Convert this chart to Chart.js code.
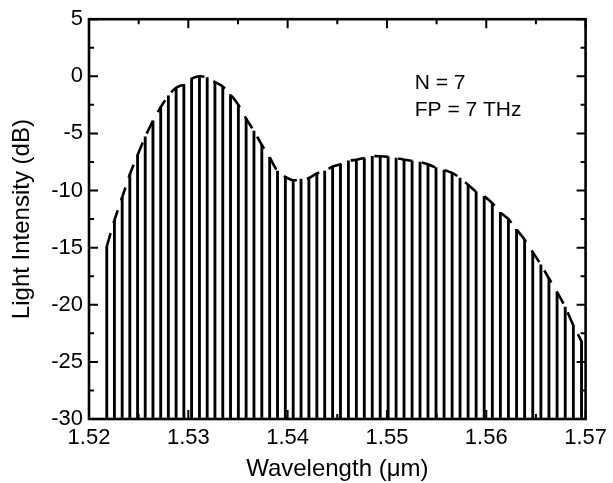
<!DOCTYPE html>
<html>
<head>
<meta charset="utf-8">
<script src="https://cdn.jsdelivr.net/npm/chart.js@4.4.0/dist/chart.umd.min.js"></script>
<style>
  html, body { margin: 0; padding: 0; background: #fff; }
</style>
</head>
<body>
<canvas id="grafEspectro" width="613" height="483"></canvas>
<script>
// canais (um) - grade de 100 GHz, 197.0 a 191.0 THz
var wavelengths = [
  1.52179, 1.52256, 1.52334, 1.52411, 1.52489, 1.52566, 1.52644, 1.52722, 1.52799, 1.52877,
  1.52955, 1.53033, 1.53112, 1.53190, 1.53268, 1.53347, 1.53425, 1.53504, 1.53582, 1.53661,
  1.53740, 1.53819, 1.53898, 1.53977, 1.54056, 1.54135, 1.54214, 1.54294, 1.54373, 1.54453,
  1.54532, 1.54612, 1.54692, 1.54772, 1.54852, 1.54932, 1.55012, 1.55092, 1.55172, 1.55253,
  1.55333, 1.55413, 1.55494, 1.55575, 1.55656, 1.55736, 1.55817, 1.55898, 1.55979, 1.56061,
  1.56142, 1.56223, 1.56305, 1.56386, 1.56468, 1.56550, 1.56631, 1.56713, 1.56795, 1.56877,
  1.56959
];
// intensidade de cada canal (dB)
var intensities = [
  -14.9, -12.6, -10.6, -8.6, -6.9, -5.3, -3.9, -2.7, -1.7, -1.0,
  -0.7, -0.2, 0.0, -0.1, -0.5, -0.9, -1.6, -2.5, -3.7, -4.8,
  -6.0, -7.1, -8.3, -8.8, -9.1, -9.0, -8.9, -8.5, -8.3, -7.9,
  -7.7, -7.4, -7.3, -7.15, -7.0, -7.0, -7.05, -7.15, -7.3, -7.4,
  -7.5, -7.7, -8.0, -8.2, -8.45, -8.9, -9.5, -10.1, -10.5, -11.1,
  -11.9, -12.5, -13.4, -14.3, -15.4, -16.5, -17.7, -18.9, -20.2, -21.8,
  -23.2
];
var xTicks = [1.52, 1.53, 1.54, 1.55, 1.56, 1.57];
var yTicks = [5, 0, -5, -10, -15, -20, -25, -30];
var notes = ["N = 7", "FP = 7 THz"];

var pontos = wavelengths.map(function (w, i) { return { x: w, y: intensities[i] }; });

/* eixos com ticks para dentro nos quatro lados */
var moldura = {
  id: 'moldura',
  afterDatasetsDraw: function (chart) {
    var ctx = chart.ctx, a = chart.chartArea;
    var sx = chart.scales.x, sy = chart.scales.y;
    var i, p;
    ctx.save();
    ctx.strokeStyle = '#000';
    ctx.lineWidth = 2.6;
    ctx.strokeRect(a.left, a.top, a.right - a.left, a.bottom - a.top);
    ctx.lineWidth = 2;
    ctx.beginPath();
    for (i = 0; i < xTicks.length; i++) {
      p = sx.getPixelForValue(xTicks[i]);
      ctx.moveTo(p, a.bottom); ctx.lineTo(p, a.bottom - 9);
      ctx.moveTo(p, a.top); ctx.lineTo(p, a.top + 9);
      if (i < xTicks.length - 1) {
        p = sx.getPixelForValue((xTicks[i] + xTicks[i + 1]) / 2);
        ctx.moveTo(p, a.bottom); ctx.lineTo(p, a.bottom - 5);
        ctx.moveTo(p, a.top); ctx.lineTo(p, a.top + 5);
      }
    }
    for (i = 0; i < yTicks.length; i++) {
      p = sy.getPixelForValue(yTicks[i]);
      ctx.moveTo(a.left, p); ctx.lineTo(a.left + 9, p);
      ctx.moveTo(a.right, p); ctx.lineTo(a.right - 9, p);
      if (i < yTicks.length - 1) {
        p = sy.getPixelForValue((yTicks[i] + yTicks[i + 1]) / 2);
        ctx.moveTo(a.left, p); ctx.lineTo(a.left + 5, p);
        ctx.moveTo(a.right, p); ctx.lineTo(a.right - 5, p);
      }
    }
    ctx.stroke();

    // legenda de texto
    ctx.fillStyle = '#000';
    ctx.font = '21px "Liberation Sans", Arial, sans-serif';
    ctx.textBaseline = 'alphabetic';
    ctx.fillText(notes[0], sx.getPixelForValue(1.5528), sy.getPixelForValue(-1.1));
    ctx.fillText(notes[1], sx.getPixelForValue(1.5528), sy.getPixelForValue(-3.5));
    ctx.restore();
  }
};

var fonte = { family: '"Liberation Sans", Arial, sans-serif', size: 22 };

var grafico = new Chart(document.getElementById('grafEspectro').getContext('2d'), {
  type: 'bar',
  data: {
    datasets: [{
      type: 'line',
      data: pontos,
      borderColor: '#000',
      borderWidth: 2.6,
      borderDash: [14, 10],
      pointRadius: 0,
      tension: 0.3,
      fill: false,
      order: 0
    }, {
      type: 'bar',
      data: pontos,
      base: -30,
      backgroundColor: '#000',
      barThickness: 2.2,
      grouped: false,
      order: 1
    }]
  },
  options: {
    responsive: false,
    animation: false,
    layout: { padding: { top: 17, right: 23, left: 0, bottom: 0 } },
    plugins: { legend: { display: false }, tooltip: { enabled: false } },
    scales: {
      x: {
        type: 'linear',
        min: 1.52,
        max: 1.57,
        offset: false,
        grid: { display: false, drawTicks: false },
        border: { display: false },
        afterBuildTicks: function (s) { s.ticks = xTicks.map(function (v) { return { value: v }; }); },
        afterFit: function (s) { s.height = 64; },
        ticks: {
          color: '#000',
          font: fonte,
          padding: 6,
          maxRotation: 0,
          callback: function (v) { return v.toFixed(2); }
        },
        title: {
          display: true,
          text: 'Wavelength (\u03bcm)',
          color: '#000',
          font: { family: fonte.family, size: 24 },
          padding: { top: 0, bottom: -1 }
        }
      },
      y: {
        min: -30,
        max: 5,
        grid: { display: false, drawTicks: false },
        border: { display: false },
        afterBuildTicks: function (s) { s.ticks = yTicks.map(function (v) { return { value: v }; }); },
        afterFit: function (s) { s.width = 89; },
        ticks: { color: '#000', font: fonte, padding: 6 },
        title: {
          display: true,
          text: 'Light Intensity (dB)',
          color: '#000',
          font: { family: fonte.family, size: 24 },
          padding: { top: 8, bottom: 0 }
        }
      }
    }
  },
  plugins: [moldura]
});
</script>
</body>
</html>
